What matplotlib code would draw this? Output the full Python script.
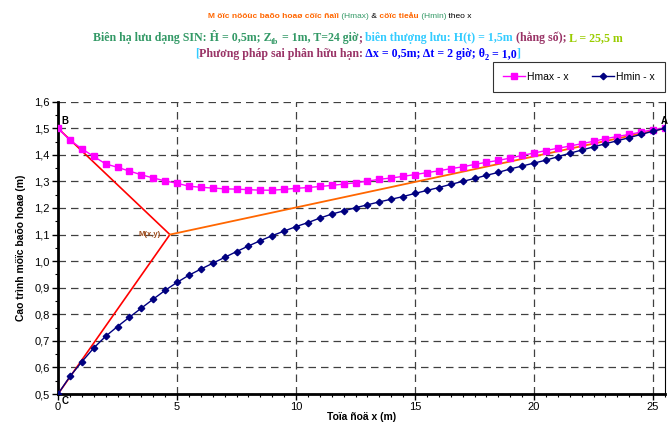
import matplotlib
matplotlib.use('Agg')
import matplotlib.pyplot as plt
from matplotlib.ticker import MultipleLocator, FuncFormatter

# ---------------- du lieu ----------------
toa_do_x = [0, 0.5, 1, 1.5, 2, 2.5, 3, 3.5, 4, 4.5, 5, 5.5, 6, 6.5, 7, 7.5, 8, 8.5,
            9, 9.5, 10, 10.5, 11, 11.5, 12, 12.5, 13, 13.5, 14, 14.5, 15, 15.5,
            16, 16.5, 17, 17.5, 18, 18.5, 19, 19.5, 20, 20.5, 21, 21.5, 22, 22.5,
            23, 23.5, 24, 24.5, 25, 25.5]

h_max = [1.500, 1.455, 1.423, 1.394, 1.366, 1.353, 1.339, 1.325, 1.313, 1.302,
         1.293, 1.282, 1.278, 1.275, 1.272, 1.271, 1.269, 1.267, 1.267, 1.270,
         1.274, 1.277, 1.281, 1.285, 1.290, 1.295, 1.301, 1.308, 1.313, 1.319,
         1.326, 1.333, 1.340, 1.348, 1.355, 1.364, 1.372, 1.379, 1.388, 1.398,
         1.407, 1.416, 1.425, 1.433, 1.442, 1.451, 1.461, 1.469, 1.477, 1.486,
         1.495, 1.500]

h_min = [0.500, 0.566, 0.621, 0.673, 0.717, 0.754, 0.789, 0.823, 0.857, 0.890,
         0.920, 0.947, 0.970, 0.992, 1.014, 1.036, 1.057, 1.077, 1.096, 1.113,
         1.130, 1.145, 1.162, 1.177, 1.189, 1.201, 1.212, 1.223, 1.233, 1.243,
         1.255, 1.266, 1.277, 1.289, 1.300, 1.311, 1.323, 1.334, 1.347, 1.358,
         1.369, 1.380, 1.393, 1.406, 1.418, 1.430, 1.442, 1.453, 1.465, 1.477,
         1.489, 1.500]

# duong gay khuc B - M - C va M - A
duong_do_x = [0, 4.7, 0]
duong_do_y = [1.5, 1.1, 0.5]
duong_cam_x = [4.7, 25.5]
duong_cam_y = [1.1, 1.5]

# ---------------- hinh ----------------
W, H = 669, 422
fig = plt.figure(figsize=(W / 100, H / 100), dpi=100)
fig.patch.set_facecolor('white')

x0, x1 = 58, 665
y_top, y_bot = 101.7, 394
ax = fig.add_axes([x0 / W, (H - y_bot) / H, (x1 - x0) / W, (y_bot - y_top) / H])

ax.plot(duong_do_x, duong_do_y, color='#FF0000', lw=1.2, zorder=3)
ax.plot(duong_cam_x, duong_cam_y, color='#FF6600', lw=1.3, zorder=3)
ax.plot(toa_do_x, h_max, color='#FF00FF', lw=1, marker='s', ms=4.6,
        mec='#FF00FF', label='Hmax - x', zorder=4)
ax.plot(toa_do_x, h_min, color='#000080', lw=1, marker='D', ms=3.3,
        mec='#000080', label='Hmin - x', zorder=4)

ax.set_xlim(0, 25.5)
ax.set_ylim(0.5, 1.6)
ax.xaxis.set_major_locator(MultipleLocator(5))
ax.xaxis.set_minor_locator(MultipleLocator(0.5))
ax.yaxis.set_major_locator(MultipleLocator(0.1))
ax.yaxis.set_minor_locator(MultipleLocator(0.05))
ax.yaxis.set_major_formatter(FuncFormatter(lambda v, p: f"{v:.1f}".replace('.', ',')))
ax.xaxis.set_major_formatter(FuncFormatter(lambda v, p: f"{v:.0f}"))

ax.grid(which='major', ls=(0, (6, 4)), color='#404040', lw=0.9, zorder=1)
ax.set_axisbelow(True)
ax.spines['top'].set_visible(False)
ax.spines['right'].set_linewidth(0.8)
ax.spines['left'].set_linewidth(2)
ax.spines['bottom'].set_linewidth(2)

ax.tick_params(which='major', direction='out', length=4, width=1, labelsize=8,
               colors='black', pad=2)
ax.tick_params(which='minor', direction='out', length=2.5, width=0.8)
for lbl in ax.get_xticklabels() + ax.get_yticklabels():
    lbl.set_family('Liberation Sans')

ax.set_xlabel('Toïa ñoä x (m)', fontsize=7.5, fontweight='bold',
              family='Liberation Sans', labelpad=0)
ax.set_ylabel('Cao trình möïc baõo hoaø (m)', fontsize=7.5, fontweight='bold',
              family='Liberation Sans', labelpad=6)

# nhan cac diem
ax.text(0.15, 1.515, 'B', fontsize=7, fontweight='bold', family='Liberation Sans')
ax.text(0.15, 0.492, 'C', fontsize=7, fontweight='bold', family='Liberation Sans',
        va='top', clip_on=False)
fig.text(668 / W, 1 - 124 / H, 'A', fontsize=7, fontweight='bold',
         family='Liberation Sans', ha='right', va='baseline')
ax.text(4.3, 1.1, 'M(x,y)', fontsize=5.5, fontweight='bold', color='#9C4A1A',
        family='Liberation Sans', ha='right', va='center')

# chu thich
leg = fig.legend(loc='upper right', bbox_to_anchor=(665 / W, 1 - 62 / H), ncol=2,
                 frameon=True, fancybox=False, edgecolor='black',
                 handlelength=2.1, handletextpad=0.2, columnspacing=2.3,
                 borderpad=0.95, borderaxespad=0,
                 prop={'family': 'Liberation Sans', 'size': 7.5})
leg.get_frame().set_linewidth(0.8)

# ---------------- tieu de nhieu mau ----------------
renderer = fig.canvas.get_renderer()


def dong_chu(y_px, cx_px, manh, family, size):
    """Ve mot dong chu gom nhieu manh mau, can giua quanh cx_px."""
    texts = []
    x = 0.0
    for s, mau, kieu in manh:
        fs = size * 0.7 if kieu == 'sub' else size
        dy = -2.5 if kieu == 'sub' else 0
        t = fig.text(0, 0, s, color=mau, fontsize=fs, family=family,
                     fontweight='normal' if kieu == 'thuong' else 'bold',
                     ha='left', va='baseline')
        w = t.get_window_extent(renderer).width
        texts.append((t, x, dy))
        x += w
    start = cx_px - x / 2
    for t, xx, dy in texts:
        t.set_position(((start + xx) / W, (H - y_px + dy) / H))


XANH = '#339966'
CAM = '#FF6600'
TIM = '#993366'
LAM = '#33CCFF'
VANG = '#99CC00'
XANH_DUONG = '#0000FF'

dong_chu(18, 340, [
    ('M öïc nöôùc baõo hoaø cöïc ñaïi', CAM, 'dam'),
    (' (Hmax)', XANH, 'thuong'),
    (' &', 'black', 'thuong'),
    (' cöïc tieåu', CAM, 'dam'),
    (' (Hmin)', XANH, 'thuong'),
    (' theo x', 'black', 'thuong'),
], 'Liberation Sans', 6.0)

dong_chu(41, 358, [
    ('Biên hạ lưu dạng SIN: Ĥ = 0,5m; Z', XANH, 'dam'),
    ('tb', XANH, 'sub'),
    (' = 1m, T=24 giờ', XANH, 'dam'),
    (';', TIM, 'dam'),
    (' biên thượng lưu: H(t) = 1,5m', LAM, 'dam'),
    (' (hằng số);', TIM, 'dam'),
    (' L = 25,5 m', VANG, 'dam'),
], 'Liberation Serif', 8.6)

dong_chu(57, 358, [
    ('[', LAM, 'dam'),
    ('Phương pháp sai phân hữu hạn:', TIM, 'dam'),
    (' Δx = 0,5m; Δt = 2 giờ; θ', XANH_DUONG, 'dam'),
    ('2', XANH_DUONG, 'sub'),
    (' = 1,0', XANH_DUONG, 'dam'),
    (']', LAM, 'dam'),
], 'Liberation Serif', 8.6)

fig.savefig('out.png', dpi=100, facecolor='white')
